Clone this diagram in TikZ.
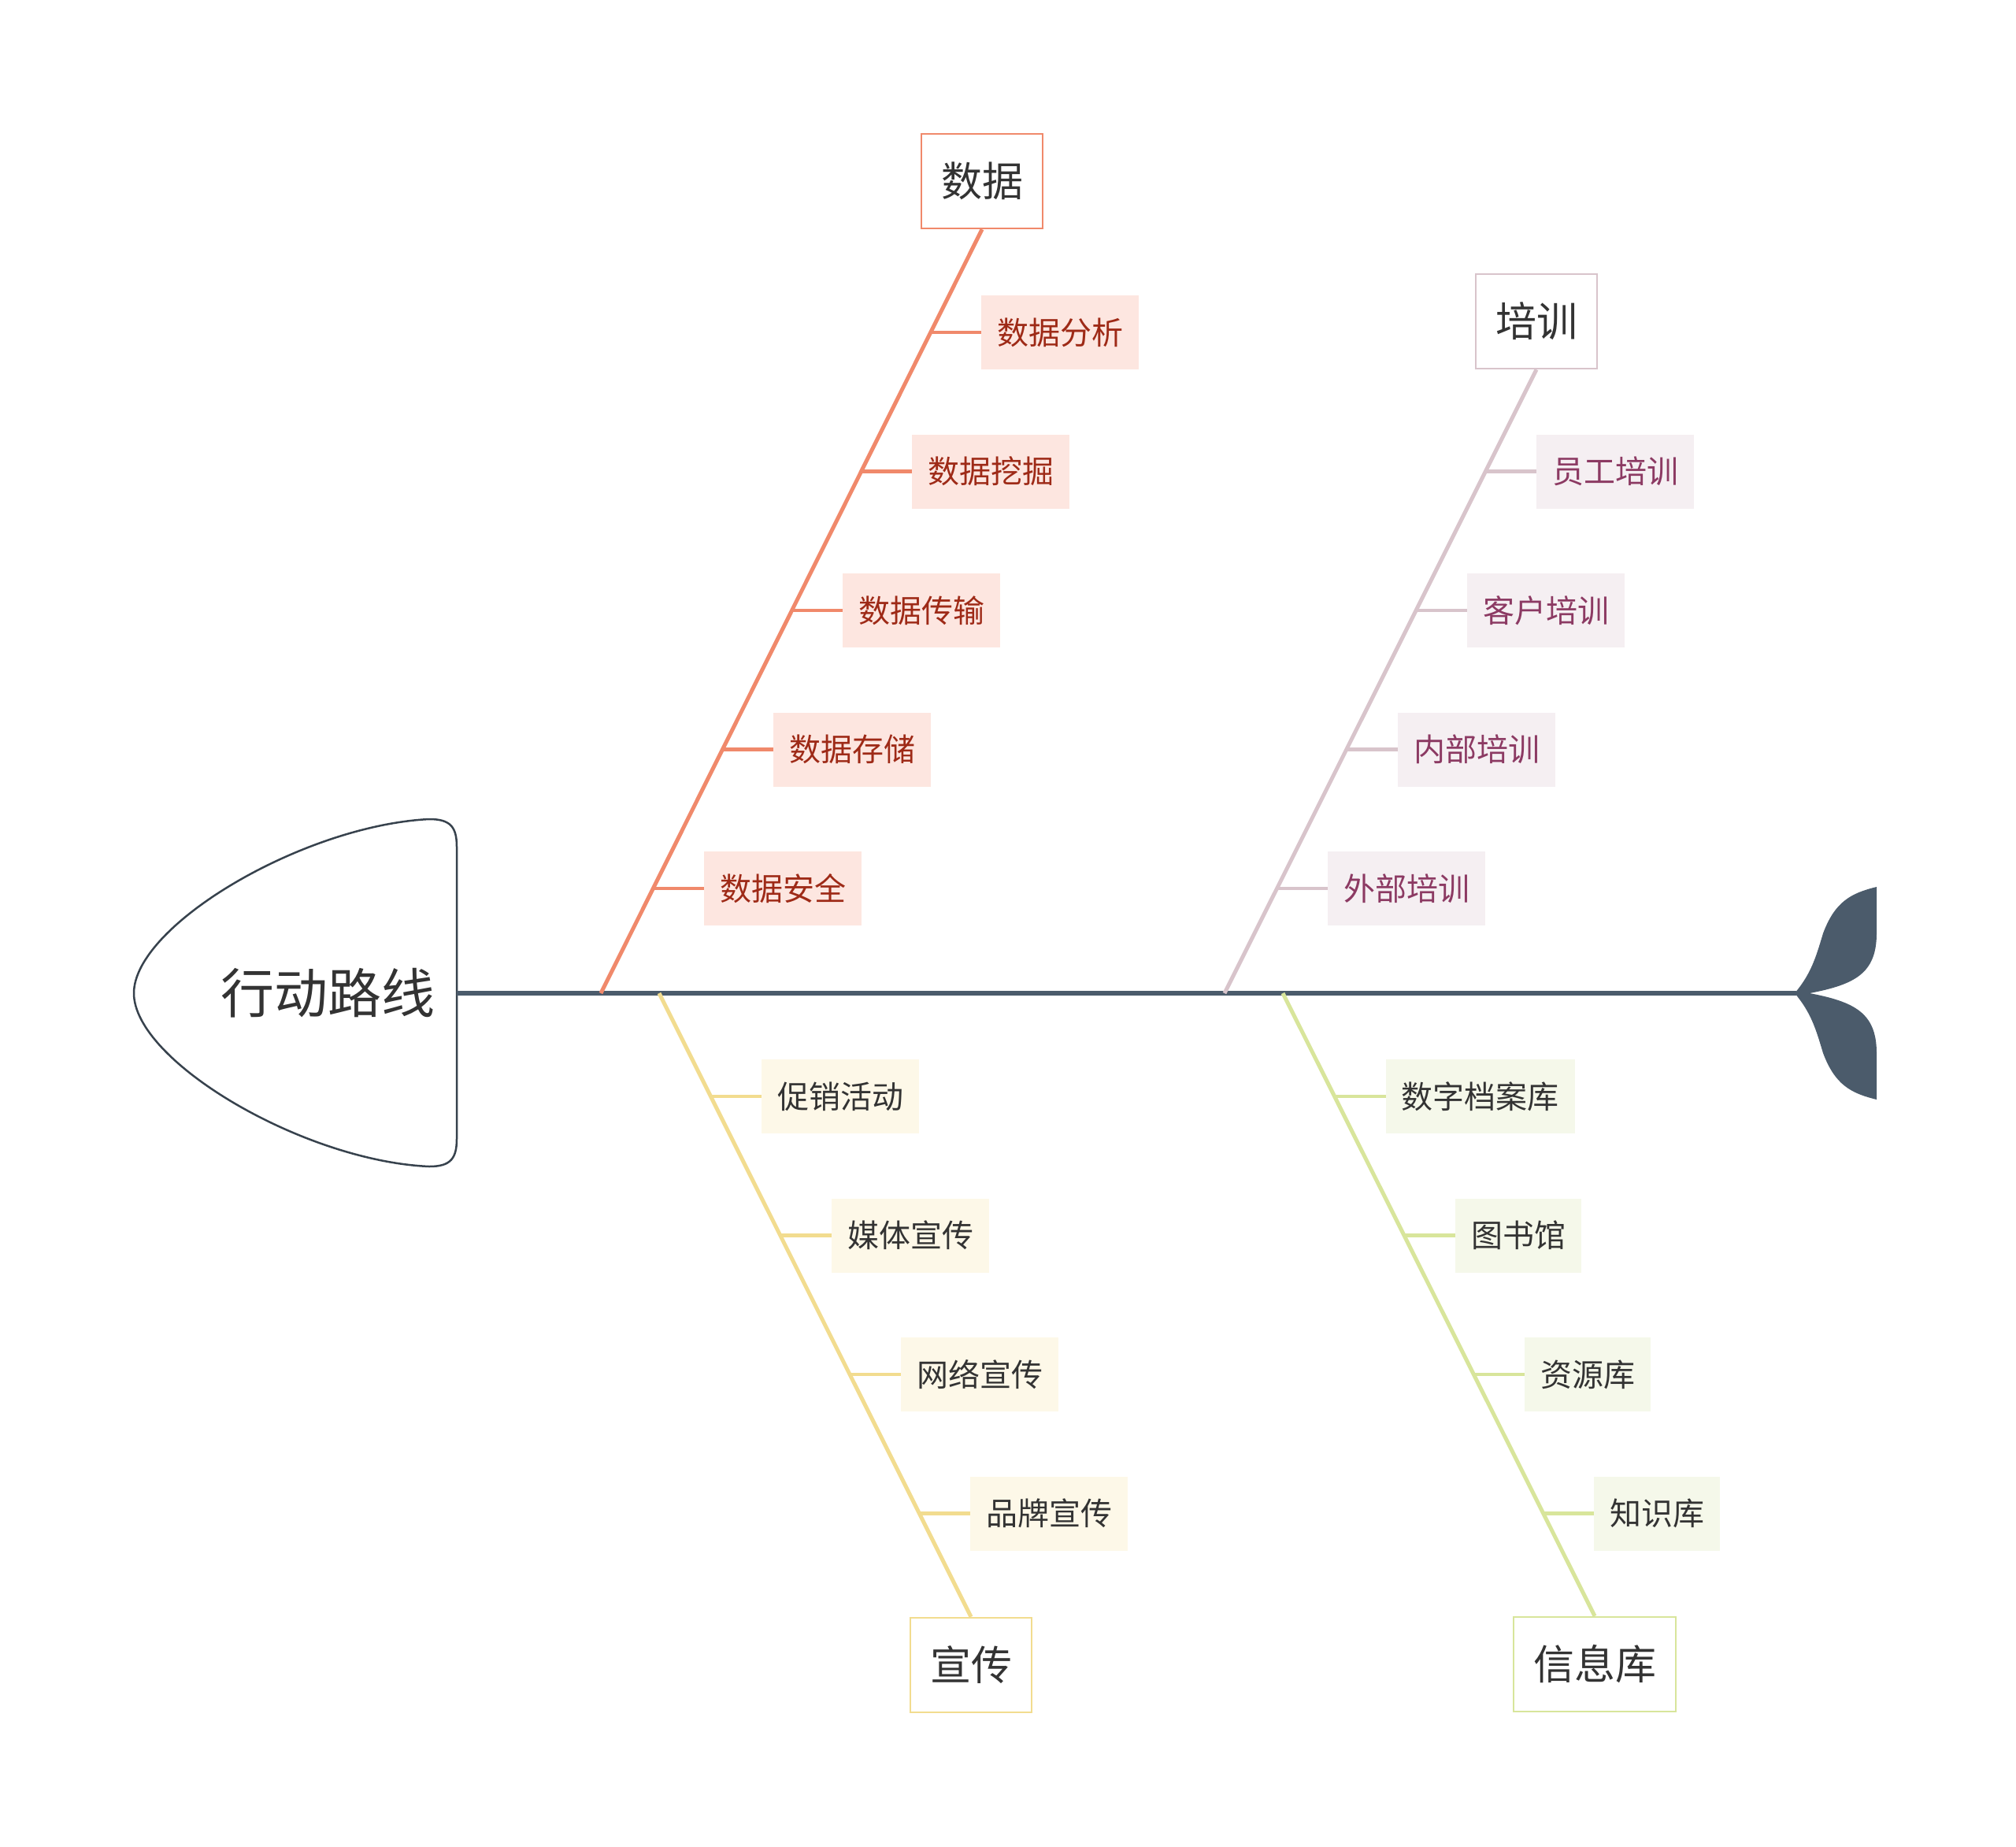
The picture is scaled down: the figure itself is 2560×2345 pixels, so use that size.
\documentclass[tikz,border=0pt]{standalone}
\usepackage{fontspec}
\newfontfamily\cjk{Noto Sans CJK SC}
\usetikzlibrary{calc}
\definecolor{spine}{HTML}{4B5B6B}
\definecolor{headline}{HTML}{37424D}
\definecolor{txt}{HTML}{333333}
\definecolor{cA}{HTML}{F0896B}\definecolor{fA}{HTML}{FDE6E0}\definecolor{tA}{HTML}{9E2A17}
\definecolor{cB}{HTML}{D8C4CB}\definecolor{fB}{HTML}{F5EFF2}\definecolor{tB}{HTML}{8C3A63}
\definecolor{cC}{HTML}{F2DC8F}\definecolor{fC}{HTML}{FDF8E8}\definecolor{tC}{HTML}{333333}
\definecolor{cD}{HTML}{D8E59B}\definecolor{fD}{HTML}{F5F8EA}\definecolor{tD}{HTML}{333333}
\tikzset{
  titlebox/.style={draw=#1, line width=2.5pt, fill=white, text=txt, inner xsep=25pt, inner ysep=0pt,
    minimum height=120pt, font=\cjk\fontsize{52}{60}\selectfont},
  subbox/.style 2 args={fill=#1, text=#2, inner xsep=20pt, inner ysep=0pt, minimum height=94pt,
    anchor=west, font=\cjk\fontsize{40}{48}\selectfont},
  branchline/.style={draw=#1, line width=5pt},
  twigline/.style={draw=#1, line width=4.5pt},
}
\begin{document}
\begin{tikzpicture}[x=1pt,y=-1pt]
\useasboundingbox (0,0) rectangle (2560,2345);
\fill[white] (0,0) rectangle (2560,2345);

% head
\draw[headline, line width=2.5pt, fill=white]
  (580,1261) -- (580,1075) .. controls (580,1050) and (572,1040) .. (545,1040)
  .. controls (385,1048) and (170,1175) .. (170,1261)
  .. controls (170,1347) and (385,1474) .. (545,1481)
  .. controls (572,1481) and (580,1471) .. (580,1446) -- cycle;
\node[font=\cjk\fontsize{68}{80}\selectfont, text=txt, anchor=east] (head) at (556,1261) {行动路线};
\coordinate (hd) at (580,1261);
\coordinate (tj) at (2281,1261);

% spine
\draw[spine, line width=5.5pt] (hd) -- (tj);

% tail
\fill[spine] (2279,1261) .. controls (2300,1236) and (2306,1215) .. (2315,1185)
  .. controls (2330,1145) and (2350,1134) .. (2383,1126) -- (2383,1185)
  .. controls (2383,1236) and (2355,1250) .. (2298,1261)
  .. controls (2355,1272) and (2383,1286) .. (2383,1337) -- (2383,1396)
  .. controls (2350,1388) and (2330,1377) .. (2315,1337)
  .. controls (2306,1307) and (2300,1286) .. (2279,1261) -- cycle;

% branch start points
\coordinate (sA) at (763,1261);
\coordinate (sB) at (1555,1261);
\coordinate (sC) at (837,1261);
\coordinate (sD) at (1629,1261);

% title boxes
\node[titlebox=cA] (A) at (1247,230) {数据};
\node[titlebox=cB] (B) at (1951,408) {培训};
\node[titlebox=cC] (C) at (1233,2114) {宣传};
\node[titlebox=cD] (D) at (2025,2113) {信息库};

\draw[branchline=cA] (sA) -- (A.south);
\draw[branchline=cB] (sB) -- (B.south);
\draw[branchline=cC] (sC) -- (C.north);
\draw[branchline=cD] (sD) -- (D.north);

% 数据 items
\coordinate (a1) at (1181,422);
\coordinate (a2) at (1093,598.5);
\coordinate (a3) at (1005,775);
\coordinate (a4) at (917,951.5);
\coordinate (a5) at (829,1128);
\node[subbox={fA}{tA}] (A1) at ([xshift=65pt]a1) {数据分析};
\node[subbox={fA}{tA}] (A2) at ([xshift=65pt]a2) {数据挖掘};
\node[subbox={fA}{tA}] (A3) at ([xshift=65pt]a3) {数据传输};
\node[subbox={fA}{tA}] (A4) at ([xshift=65pt]a4) {数据存储};
\node[subbox={fA}{tA}] (A5) at ([xshift=65pt]a5) {数据安全};
\foreach \i in {1,...,5} {\draw[twigline=cA] (a\i) -- (A\i.west);}

% 培训 items
\coordinate (b1) at (1886,598.5);
\coordinate (b2) at (1798,775);
\coordinate (b3) at (1710,951.5);
\coordinate (b4) at (1621,1128);
\node[subbox={fB}{tB}] (B1) at ([xshift=65pt]b1) {员工培训};
\node[subbox={fB}{tB}] (B2) at ([xshift=65pt]b2) {客户培训};
\node[subbox={fB}{tB}] (B3) at ([xshift=65pt]b3) {内部培训};
\node[subbox={fB}{tB}] (B4) at ([xshift=65pt]b4) {外部培训};
\foreach \i in {1,...,4} {\draw[twigline=cB] (b\i) -- (B\i.west);}

% 宣传 items
\coordinate (c1) at (902,1392);
\coordinate (c2) at (991,1568.5);
\coordinate (c3) at (1079,1745);
\coordinate (c4) at (1167,1921.5);
\node[subbox={fC}{tC}] (C1) at ([xshift=65pt]c1) {促销活动};
\node[subbox={fC}{tC}] (C2) at ([xshift=65pt]c2) {媒体宣传};
\node[subbox={fC}{tC}] (C3) at ([xshift=65pt]c3) {网络宣传};
\node[subbox={fC}{tC}] (C4) at ([xshift=65pt]c4) {品牌宣传};
\foreach \i in {1,...,4} {\draw[twigline=cC] (c\i) -- (C\i.west);}

% 信息库 items
\coordinate (d1) at (1694.5,1392);
\coordinate (d2) at (1783,1568.5);
\coordinate (d3) at (1871,1745);
\coordinate (d4) at (1959,1921.5);
\node[subbox={fD}{tD}] (D1) at ([xshift=65pt]d1) {数字档案库};
\node[subbox={fD}{tD}] (D2) at ([xshift=65pt]d2) {图书馆};
\node[subbox={fD}{tD}] (D3) at ([xshift=65pt]d3) {资源库};
\node[subbox={fD}{tD}] (D4) at ([xshift=65pt]d4) {知识库};
\foreach \i in {1,...,4} {\draw[twigline=cD] (d\i) -- (D\i.west);}
\end{tikzpicture}
\end{document}
